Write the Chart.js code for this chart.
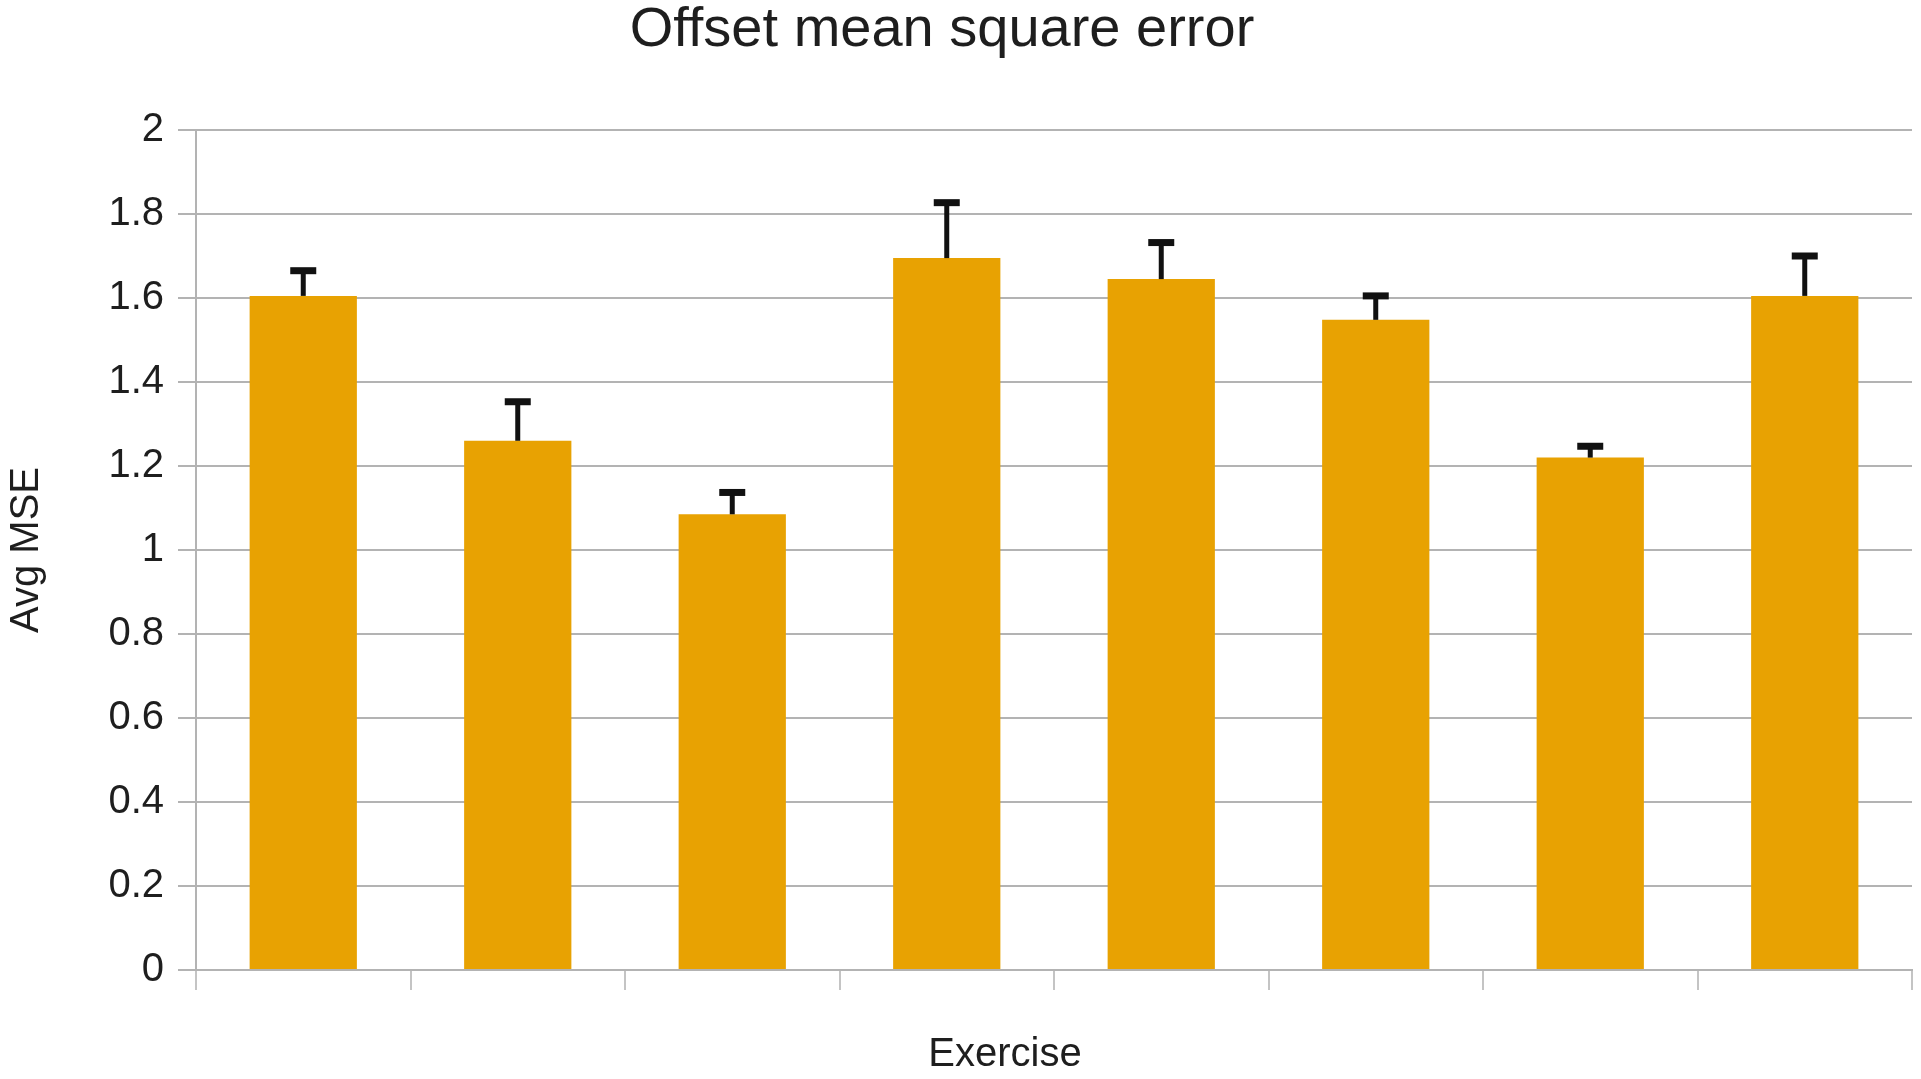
<!DOCTYPE html>
<html>
<head>
<meta charset="utf-8">
<script src="https://cdn.jsdelivr.net/npm/chart.js@4/dist/chart.umd.min.js"></script>
<style>
  html, body { margin: 0; padding: 0; background: #fff; }
  #wrap { width: 1921px; height: 1079px; }
</style>
</head>
<body>
<div id="wrap"><canvas id="mse-chart" width="1921" height="1079"></canvas></div>
<script>
const exercises = ['1', '2', '3', '4', '5', '6', '7', '8'];
const avgMse = [1.605, 1.26, 1.085, 1.695, 1.645, 1.548, 1.22, 1.605];
const mseError = [0.06, 0.093, 0.052, 0.132, 0.087, 0.057, 0.027, 0.095];
const yTickLabels = ['0', '0.2', '0.4', '0.6', '0.8', '1', '1.2', '1.4', '1.6', '1.8', '2'];

const gridGrey = '#b3b3b3';
const textColor = '#1e1e1e';
const fontFamily = 'Liberation Sans';

// upper half of each error bar (stem + cap) drawn over the bars
const errorBars = {
  id: 'errorBars',
  afterDatasetsDraw(chart) {
    const { ctx } = chart;
    const yScale = chart.scales.y;
    const meta = chart.getDatasetMeta(0);
    ctx.save();
    ctx.strokeStyle = '#111';
    meta.data.forEach((bar, i) => {
      const yTop = yScale.getPixelForValue(avgMse[i] + mseError[i]);
      const yBase = yScale.getPixelForValue(avgMse[i]);
      ctx.lineWidth = 5;
      ctx.beginPath();
      ctx.moveTo(bar.x, yBase);
      ctx.lineTo(bar.x, yTop);
      ctx.stroke();
      ctx.lineWidth = 7;
      ctx.beginPath();
      ctx.moveTo(bar.x - 13, yTop);
      ctx.lineTo(bar.x + 13, yTop);
      ctx.stroke();
    });
    ctx.restore();
  },
};

// chart title and x axis title sit a bit left of centre in the original
const captions = {
  id: 'captions',
  afterDraw(chart) {
    const { ctx, chartArea } = chart;
    ctx.save();
    ctx.fillStyle = textColor;
    ctx.textAlign = 'center';
    ctx.textBaseline = 'middle';
    ctx.font = `56px "${fontFamily}"`;
    ctx.fillText('Offset mean square error', chartArea.left + 746, 31);
    ctx.font = `40px "${fontFamily}"`;
    ctx.fillText('Exercise', chartArea.left + 809, chartArea.bottom + 85);
    ctx.restore();
  },
};

const ctx = document.getElementById('mse-chart').getContext('2d');
new Chart(ctx, {
  type: 'bar',
  data: {
    labels: exercises,
    datasets: [
      {
        data: avgMse,
        backgroundColor: '#e8a202',
        borderWidth: 0,
        barPercentage: 0.5,
        categoryPercentage: 1,
      },
    ],
  },
  options: {
    responsive: false,
    animation: false,
    layout: { padding: { top: 130, right: 9, bottom: 0, left: 0 } },
    plugins: {
      legend: { display: false },
      tooltip: { enabled: false },
      title: { display: false },
    },
    scales: {
      x: {
        grid: {
          offset: true,
          color: c => (c.index === exercises.length ? '#c4c4c4' : 'transparent'),
          tickColor: '#c4c4c4',
          tickLength: 20,
          lineWidth: 2,
        },
        border: { color: gridGrey, width: 2 },
        ticks: { display: false },
        afterFit: scale => { scale.height = 109; },
      },
      y: {
        min: 0,
        max: 2,
        ticks: {
          stepSize: 0.2,
          color: textColor,
          padding: 14,
          font: { family: fontFamily, size: 40 },
          callback: (v, i) => yTickLabels[i],
        },
        grid: { color: gridGrey, lineWidth: 2, tickLength: 18 },
        border: { color: gridGrey, width: 2 },
        title: {
          display: true,
          text: 'Avg MSE',
          color: textColor,
          font: { family: fontFamily, size: 40 },
          padding: { top: 3, bottom: 0 },
        },
        afterFit: scale => { scale.width = 196; },
      },
    },
  },
  plugins: [errorBars, captions],
});
</script>
</body>
</html>
